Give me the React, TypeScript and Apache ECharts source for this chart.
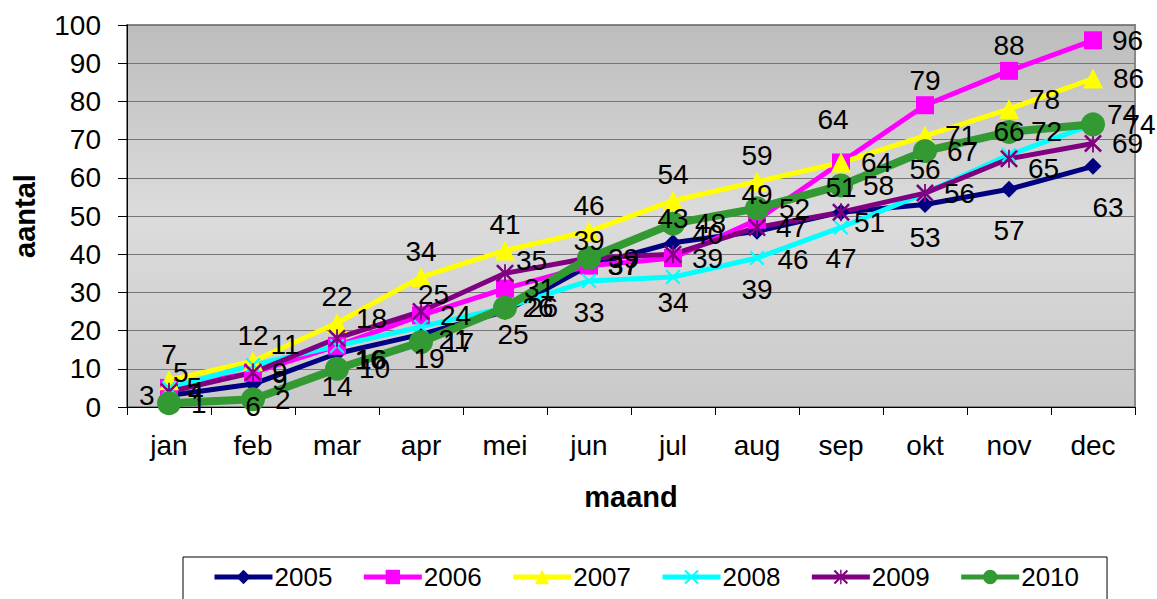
import React, { useEffect, useRef } from "react";
import * as echarts from "echarts";

const months = ["jan", "feb", "mar", "apr", "mei", "jun", "jul", "aug", "sep", "okt", "nov", "dec"];
const years = ["2005", "2006", "2007", "2008", "2009", "2010"];
const v2005 = [3, 6, 14, 19, 25, 37, 43, 46, 51, 53, 57, 63];
const v2006 = [5, 9, 16, 24, 31, 37, 39, 49, 64, 79, 88, 96];
const v2007 = [7, 12, 22, 34, 41, 46, 54, 59, 64, 71, 78, 86];
const v2008 = [5, 11, 16, 21, 26, 33, 34, 39, 47, 56, 66, 74];
const v2009 = [4, 9, 18, 25, 35, 39, 40, 47, 51, 56, 65, 69];
const v2010 = [1, 2, 10, 17, 26, 39, 48, 52, 58, 67, 72, 74];
const yTicks = [0, 100, 10];

// where each value label sits relative to its point (layout only)
const T = "top", B = "bottom", R = "right", L = "left";
const pos2005 = [L, B, B, B, B, R, T, B, T, B, B, B];
const pos2006 = [R, R, R, R, R, R, R, T, T, T, T, R];
const pos2007 = [T, T, T, T, T, T, T, T, R, R, R, R];
const pos2008 = [R, R, R, R, R, B, B, B, B, T, T, R];
const pos2009 = [R, R, R, R, R, R, R, R, R, R, R, R];
const pos2010 = [R, R, R, R, R, T, R, R, R, R, R, R];
// small label nudges (pixels) keyed by month index (layout only)
type Nudge = Record<number, [number, number]>;
const nudge2005: Nudge = { 1: [0, -10], 3: [8, -8], 4: [8, -10], 7: [36, -4], 10: [0, 9], 11: [15, 9] };
const nudge2006: Nudge = { 0: [-15, -15], 1: [0, 8], 2: [0, 14], 8: [-8, -18] };
const nudge2007: Nudge = { 10: [0, -10] };
const nudge2008: Nudge = { 1: [0, -20], 2: [0, 14], 3: [0, 13], 6: [0, -6], 11: [14, 0] };
const nudge2009: Nudge = { 2: [0, -20], 3: [-22, -17], 4: [-8, -13], 6: [0, -20], 8: [-6, 10], 10: [0, 10] };
const nudge2010: Nudge = { 5: [0, 10], 11: [-8, -10] };
const DIST: Record<string, number> = { top: 2, bottom: 10, right: 10, left: 6 };

const X_PATH = "path://M0,1 L1,0 L5,4 L9,0 L10,1 L6,5 L10,9 L9,10 L5,6 L1,10 L0,9 L4,5 Z";
const AST_PATH =
  "path://M0,1 L1,0 L5,4 L9,0 L10,1 L6,5 L10,9 L9,10 L5,6 L1,10 L0,9 L4,5 Z M4.5,0 L5.5,0 L5.5,10 L4.5,10 Z";

const FONT = "'Liberation Sans', Arial, sans-serif";

export default function App() {
  const ref = useRef<HTMLDivElement>(null);
  useEffect(() => {
    if (!ref.current) return;
    const chart = echarts.init(ref.current, null, { renderer: "svg" });
    const withLabels = (data: number[], pos: string[], nudge: Nudge) =>
      data.map((v, i) => ({
        value: v,
        label: { position: pos[i], distance: DIST[pos[i]], offset: nudge[i] || [0, 0] },
      }));
    const mk = (
      name: string,
      data: number[],
      pos: string[],
      nudge: Nudge,
      color: string,
      symbol: string,
      symbolSize: number,
      width: number
    ) => ({
      name,
      type: "line",
      data: withLabels(data, pos, nudge),
      symbol,
      symbolSize,
      showAllSymbol: true,
      lineStyle: { color, width },
      itemStyle: { color, borderWidth: 0 },
      label: { show: true, fontSize: 28, color: "#000", fontFamily: FONT },
      emphasis: { disabled: true },
    });
    chart.setOption({
      animation: false,
      textStyle: { fontFamily: FONT },
      grid: {
        left: 127,
        right: 22,
        top: 25,
        bottom: 192,
        show: true,
        borderColor: "#888",
        borderWidth: 2,
        backgroundColor: new echarts.graphic.LinearGradient(0, 0, 0, 1, [
          { offset: 0, color: "#bcbcbc" },
          { offset: 0.5, color: "#dcdcdc" },
          { offset: 1, color: "#c9c9c9" },
        ]),
      },
      legend: {
        left: 183,
        top: 557,
        padding: [7, 28, 12, 29],
        itemGap: 29,
        itemWidth: 58,
        itemHeight: 18,
        borderColor: "#000",
        borderWidth: 1,
        lineStyle: { width: 5 },
        textStyle: { fontSize: 26, color: "#000", fontFamily: FONT, padding: [0, 0, 0, -3] },
        data: years,
      },
      xAxis: {
        type: "category",
        data: months,
        boundaryGap: true,
        name: "maand",
        nameLocation: "middle",
        nameGap: 75,
        nameTextStyle: { fontSize: 29, fontWeight: "bold", color: "#000" },
        axisLine: { show: true, lineStyle: { color: "#000", width: 1 } },
        axisTick: { show: true, length: 8, lineStyle: { color: "#000" } },
        axisLabel: { fontSize: 28, color: "#000", margin: 24 },
        splitLine: { show: false },
      },
      yAxis: {
        type: "value",
        min: yTicks[0],
        max: yTicks[1],
        interval: yTicks[2],
        name: "aantal",
        nameLocation: "middle",
        nameRotate: 90,
        nameGap: 88,
        nameTextStyle: { fontSize: 29, fontWeight: "bold", color: "#000" },
        axisLine: { show: true, lineStyle: { color: "#000", width: 1 } },
        axisTick: { show: true, length: 9, lineStyle: { color: "#000" } },
        axisLabel: { fontSize: 28, color: "#000", margin: 26 },
        splitLine: { show: true, lineStyle: { color: "#777", width: 1 } },
      },
      series: [
        mk("2005", v2005, pos2005, nudge2005, "#000080", "diamond", 17, 5),
        mk("2006", v2006, pos2006, nudge2006, "#ff00ff", "rect", 18, 5),
        mk("2007", v2007, pos2007, nudge2007, "#ffff00", "triangle", 20, 5),
        mk("2008", v2008, pos2008, nudge2008, "#00ffff", X_PATH, 15, 5),
        mk("2009", v2009, pos2009, nudge2009, "#800080", AST_PATH, 18, 5),
        mk("2010", v2010, pos2010, nudge2010, "#339933", "circle", 24, 8),
      ],
    });
    return () => chart.dispose();
  }, []);
  return (
    <div
      ref={ref}
      style={{ position: "fixed", left: 0, top: 0, width: 1157, height: 599, background: "#fff" }}
    />
  );
}
